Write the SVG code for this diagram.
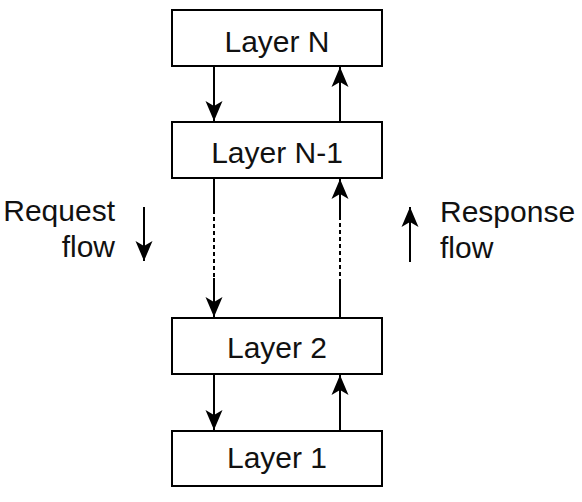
<svg xmlns="http://www.w3.org/2000/svg" width="582" height="502" viewBox="0 0 582 502">
  <defs>
    <marker id="ah" markerUnits="userSpaceOnUse" markerWidth="26" markerHeight="22" viewBox="-22 -11 26 22" refX="0" refY="0" orient="auto">
      <path d="M0,0 L-20,-8.5 L-15,0 L-20,8.5 Z" fill="#000"/>
    </marker>
  </defs>
  <style>
    .box { fill: #fff; stroke: #000; stroke-width: 2; }
    .lbl { font-family: "Liberation Sans", Arial, sans-serif; font-size: 30px; fill: #111; text-anchor: middle; }
    .side { font-family: "Liberation Sans", Arial, sans-serif; font-size: 30px; fill: #111; }
    .ln { stroke: #000; stroke-width: 2; fill: none; }
    .dash { stroke: #000; stroke-width: 2; fill: none; stroke-dasharray: 4 3; }
  </style>
  <rect width="582" height="502" fill="#fff"/>

  <g id="layerN">
    <rect class="box" x="172" y="10" width="210" height="56"/>
    <text class="lbl" x="277" y="52">Layer N</text>
  </g>
  <g id="layerN1">
    <rect class="box" x="172" y="122" width="210" height="56"/>
    <text class="lbl" x="277" y="163">Layer N-1</text>
  </g>
  <g id="layer2">
    <rect class="box" x="172" y="318" width="210" height="56"/>
    <text class="lbl" x="277" y="358">Layer 2</text>
  </g>
  <g id="layer1">
    <rect class="box" x="172" y="431" width="210" height="55"/>
    <text class="lbl" x="277" y="468">Layer 1</text>
  </g>

  <g id="connectors">
    <line class="ln" x1="214" y1="67" x2="214" y2="121" marker-end="url(#ah)"/>
    <line class="ln" x1="340" y1="121" x2="340" y2="67" marker-end="url(#ah)"/>

    <line class="ln" x1="214" y1="179" x2="214" y2="210"/>
    <line class="dash" x1="214" y1="210" x2="214" y2="278"/>
    <line class="ln" x1="214" y1="278" x2="214" y2="317" marker-end="url(#ah)"/>

    <line class="ln" x1="340" y1="317" x2="340" y2="283"/>
    <line class="dash" x1="340" y1="283" x2="340" y2="220"/>
    <line class="ln" x1="340" y1="220" x2="340" y2="179" marker-end="url(#ah)"/>

    <line class="ln" x1="214" y1="375" x2="214" y2="430" marker-end="url(#ah)"/>
    <line class="ln" x1="340" y1="430" x2="340" y2="375" marker-end="url(#ah)"/>
  </g>

  <g id="request-flow">
    <text class="side" x="115" y="221" text-anchor="end">Request</text>
    <text class="side" x="115" y="257" text-anchor="end">flow</text>
    <line class="ln" x1="144" y1="207" x2="144" y2="261" marker-end="url(#ah)"/>
  </g>
  <g id="response-flow">
    <text class="side" x="440" y="222">Response</text>
    <text class="side" x="440" y="258">flow</text>
    <line class="ln" x1="410" y1="262" x2="410" y2="207" marker-end="url(#ah)"/>
  </g>
</svg>
